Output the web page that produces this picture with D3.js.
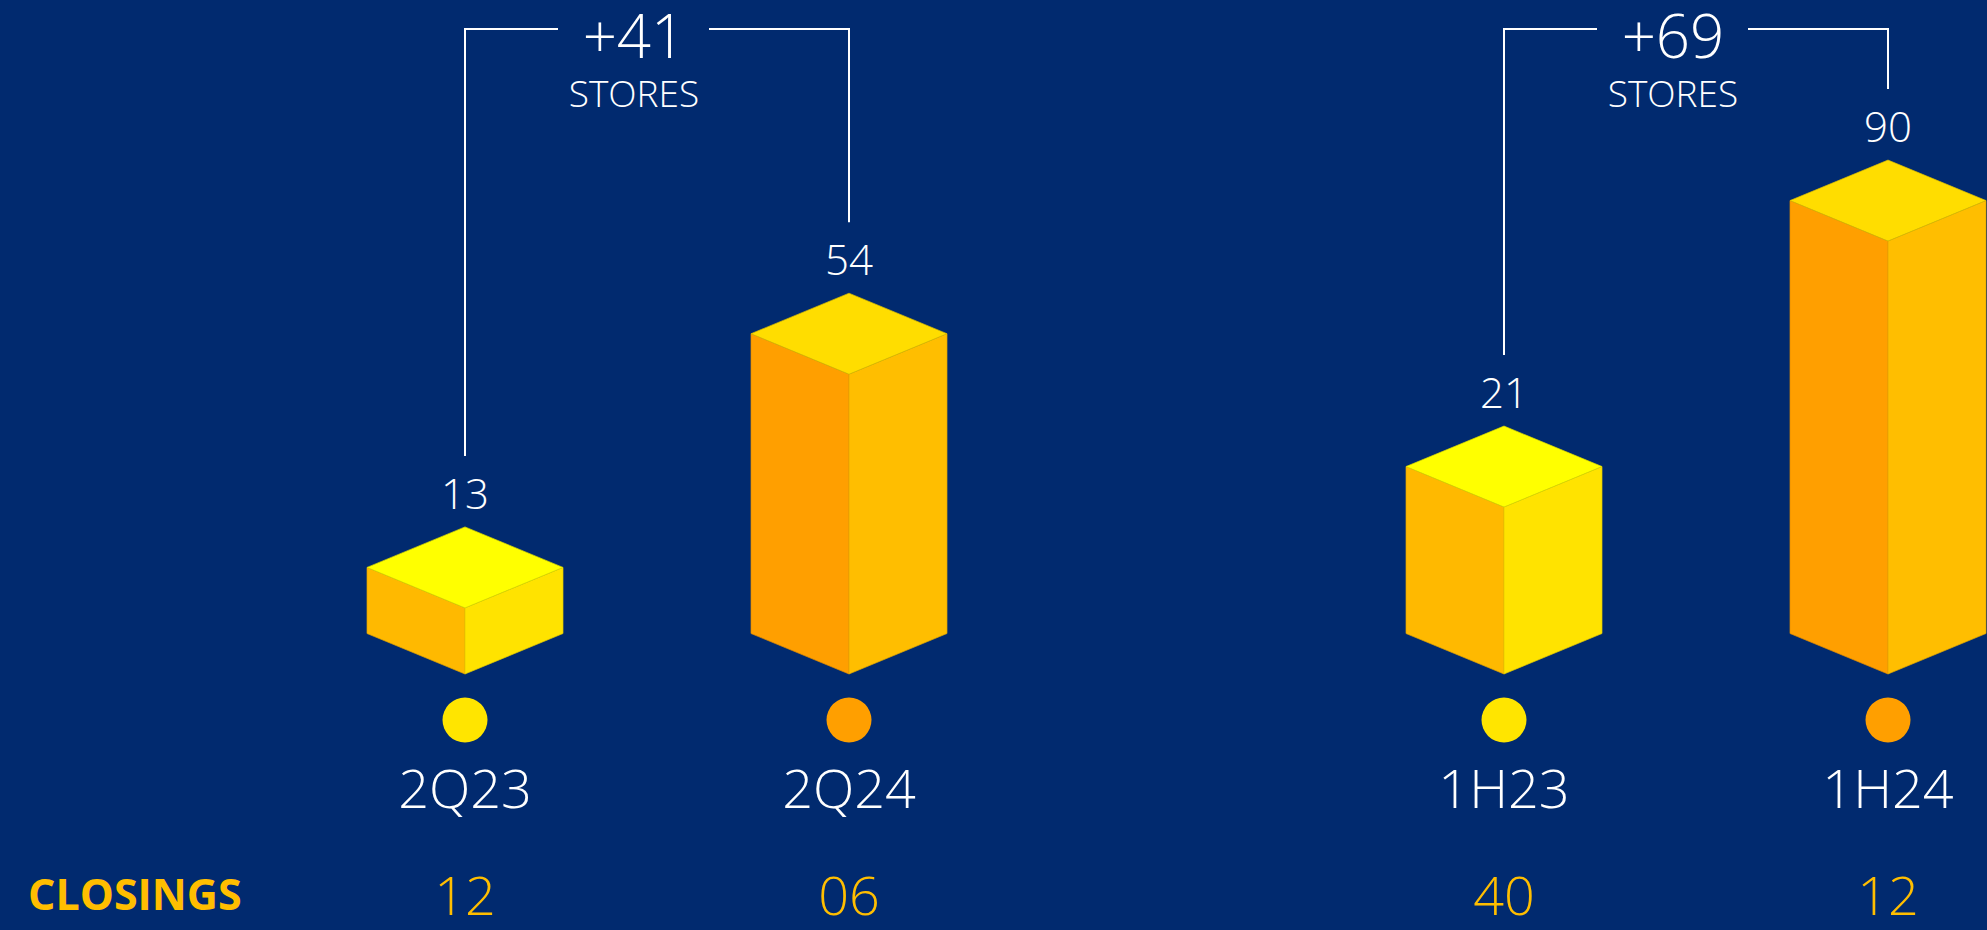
<!DOCTYPE html>
<html>
<head>
<meta charset="utf-8">
<script src="https://cdn.jsdelivr.net/npm/d3@7"></script>
<style>
  html, body { margin: 0; padding: 0; background: #012a6f; }
  svg { display: block; }
  text { font-family: "Open Sans", "Noto Sans", sans-serif; }
</style>
</head>
<body>
<script>
// ---- data ----
const categories = ["2Q23", "2Q24", "1H23", "1H24"];
const panels = ["2Q", "2Q", "1H", "1H"];
const periods = ["prior", "current", "prior", "current"];
const stores = [13, 54, 21, 90];
const closings = [12, 6, 40, 12];
const closingsLabel = "CLOSINGS";
const unitLabel = "STORES";

// ---- styles ----
const W = 1987, H = 930;
const bg = "#012a6f";
const faceColors = {
  prior:   { top: "#ffff00", left: "#ffb900", right: "#ffe300", dot: "#ffe500" },
  current: { top: "#ffdd00", left: "#ff9f00", right: "#ffbe00", dot: "#ff9f00" }
};
const amber = "#ffbe00";
const textWeight = 360;

const svg = d3.select("body").append("svg")
  .attr("width", W).attr("height", H);
svg.append("rect").attr("width", W).attr("height", H).attr("fill", bg);

// ---- scales ----
const panelX = d3.scalePoint().domain(["2Q", "1H"]).range([657, 1696]);
const periodX = d3.scalePoint().domain(["prior", "current"]).range([-192, 192]);
const xOf = i => panelX(panels[i]) + periodX(periods[i]);

// each panel is an independent comparison with its own height scale
const heightScale = {
  "2Q": d3.scaleLinear().domain([0, 60]).range([-8, 334]),
  "1H": d3.scaleLinear().domain([0, 100]).range([86, 471.5])
};

const baseY = 674;      // bottom (front) vertex of each box
const halfW = 98;       // half width of the box
const dz = 40.5;        // isometric vertical offset

const data = categories.map((c, i) => ({
  cat: c, panel: panels[i], period: periods[i], value: stores[i], closing: closings[i],
  x: xOf(i), h: heightScale[panels[i]](stores[i])
}));

const bars = svg.append("g").selectAll("g").data(data).join("g");

function pts(arr) { return arr.map(p => p.join(",")).join(" "); }

bars.each(function(d) {
  const g = d3.select(this);
  const c = faceColors[d.period];
  const x = d.x, yb = baseY, yt = baseY - d.h; // yt: front vertex at top
  g.append("polygon")
    .attr("points", pts([[x - halfW, yt - dz], [x, yt], [x, yb], [x - halfW, yb - dz]]))
    .attr("fill", c.left).attr("stroke", d3.color(c.left).darker(0.35)).attr("stroke-width", 0.7);
  g.append("polygon")
    .attr("points", pts([[x, yt], [x + halfW, yt - dz], [x + halfW, yb - dz], [x, yb]]))
    .attr("fill", c.right).attr("stroke", d3.color(c.right).darker(0.35)).attr("stroke-width", 0.7);
  g.append("polygon")
    .attr("points", pts([[x, yt - 2 * dz], [x + halfW, yt - dz], [x, yt], [x - halfW, yt - dz]]))
    .attr("fill", c.top).attr("stroke", d3.color(c.top).darker(0.45)).attr("stroke-width", 0.7);
  g.append("text")
    .attr("x", x).attr("y", yt - 2 * dz - 18)
    .attr("text-anchor", "middle").attr("fill", "#ffffff")
    .attr("font-size", 42).attr("font-weight", textWeight)
    .text(d.value);
});

// dots
svg.append("g").selectAll("circle").data(data).join("circle")
  .attr("cx", d => d.x).attr("cy", 720).attr("r", 22.5)
  .attr("fill", d => faceColors[d.period].dot);

// category labels
svg.append("g").selectAll("text").data(data).join("text")
  .attr("x", d => d.x).attr("y", 808)
  .attr("text-anchor", "middle").attr("fill", "#ffffff")
  .attr("font-size", 54).attr("font-weight", textWeight)
  .text(d => d.cat);

// closings
svg.append("text")
  .attr("x", 28).attr("y", 910)
  .attr("fill", amber).attr("font-size", 43).attr("font-weight", 700)
  .text(closingsLabel);

svg.append("g").selectAll("text").data(data).join("text")
  .attr("x", d => d.x).attr("y", 915)
  .attr("text-anchor", "middle").attr("fill", amber)
  .attr("font-size", 54).attr("font-weight", textWeight)
  .text(d => d3.format("02d")(d.closing));

// brackets with growth
const bracketY = 29;
["2Q", "1H"].forEach(p => {
  const pair = data.filter(d => d.panel === p);
  const a = pair[0], b = pair[1];
  const labelX = (a.x + b.x) / 2 - 23;
  const topA = baseY - a.h - 2 * dz - 18 - 31 - 22;
  const topB = baseY - b.h - 2 * dz - 18 - 31 - 22;
  const g = svg.append("g")
    .attr("fill", "none").attr("stroke", "#ffffff").attr("stroke-width", 2);
  g.append("path").attr("d", `M${a.x},${topA}V${bracketY}H${labelX - 76}`);
  g.append("path").attr("d", `M${labelX + 75},${bracketY}H${b.x}V${topB}`);
  svg.append("text")
    .attr("x", labelX).attr("y", 58)
    .attr("text-anchor", "middle").attr("fill", "#ffffff")
    .attr("font-size", 60).attr("font-weight", textWeight)
    .text("+" + (b.value - a.value));
  svg.append("text")
    .attr("x", labelX).attr("y", 107)
    .attr("text-anchor", "middle").attr("fill", "#ffffff")
    .attr("font-size", 37).attr("font-weight", textWeight)
    .text(unitLabel);
});
</script>
</body>
</html>
